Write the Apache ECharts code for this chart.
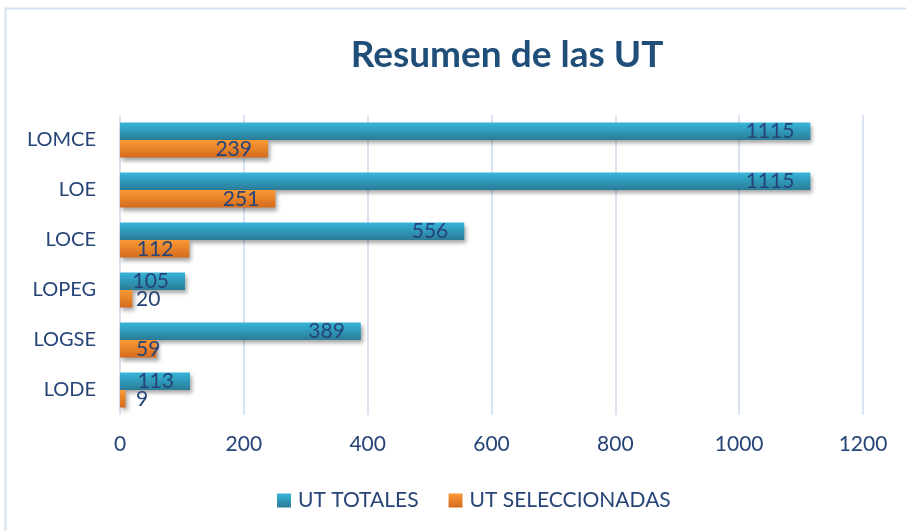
<!DOCTYPE html>
<html>
<head>
<meta charset="UTF-8" />
<title>Resumen de las UT</title>
<script src="https://cdn.jsdelivr.net/npm/echarts@6/dist/echarts.min.js"></script>
<style>
  html, body { margin: 0; padding: 0; background: #fff; }
  #chart { width: 906px; height: 531px; }
</style>
</head>
<body>
<div id="chart"></div>
<script>
// datos (orden de abajo hacia arriba)
var leyes = ['LODE', 'LOGSE', 'LOPEG', 'LOCE', 'LOE', 'LOMCE'];
var utTotales = [113, 389, 105, 556, 1115, 1115];
var utSeleccionadas = [9, 59, 20, 112, 251, 239];
var ticksX = [0, 200, 400, 600, 800, 1000, 1200];

var txtColor = '#264478';

// etiqueta dentro del final, o al inicio si no cabe (como Excel)
function conEtiquetas(valores) {
  return valores.map(function (v) {
    return {
      value: v,
      label: { position: v < 90 ? 'insideLeft' : 'insideRight' }
    };
  });
}

function degradado(c1, c2) {
  return new echarts.graphic.LinearGradient(0, 0, 0, 1, [
    { offset: 0, color: c1 },
    { offset: 1, color: c2 }
  ]);
}

var etiqueta = {
  show: true,
  distance: 16,
  color: txtColor,
  fontFamily: 'Lato',
  fontSize: 21
};

var sombra = {
  shadowBlur: 4,
  shadowOffsetX: 2,
  shadowOffsetY: 3,
  shadowColor: 'rgba(0,0,0,0.35)'
};

var myChart = echarts.init(document.getElementById('chart'));
myChart.setOption({
  animation: false,
  backgroundColor: '#ffffff',
  graphic: [{
    type: 'rect',
    shape: { x: 5.5, y: 8.5, width: 1000, height: 1000 },
    style: { fill: 'none', stroke: '#d6e2f1', lineWidth: 2 },
    silent: true
  }],
  title: {
    text: 'Resumen de las UT',
    left: 502,
    top: 32,
    textAlign: 'center',
    textStyle: {
      color: '#1f4e79',
      fontFamily: 'Lato',
      fontWeight: 'bold',
      fontSize: 37
    }
  },
  legend: {
    left: 272,
    top: 485,
    itemWidth: 14,
    itemHeight: 14,
    itemGap: 30,
    icon: 'rect',
    textStyle: { color: txtColor, fontFamily: 'Lato', fontSize: 21, padding: [0, 0, 0, 2] },
    data: ['UT TOTALES', 'UT SELECCIONADAS']
  },
  grid: { left: 120, right: 43, top: 115, height: 300 },
  xAxis: {
    type: 'value',
    min: ticksX[0],
    max: ticksX[ticksX.length - 1],
    interval: 200,
    axisLine: { show: false },
    axisTick: { show: false },
    axisLabel: {
      color: txtColor, fontFamily: 'Lato', fontSize: 21, margin: 19,
      formatter: function (v) { return String(v); }
    },
    splitLine: { lineStyle: { color: '#dae3f1', width: 2 } }
  },
  yAxis: {
    type: 'category',
    data: leyes,
    axisLine: { show: false },
    axisTick: { show: false },
    axisLabel: { color: txtColor, fontFamily: 'Lato', fontSize: 20, margin: 24 }
  },
  series: [{
    name: 'UT TOTALES',
    type: 'bar',
    data: conEtiquetas(utTotales),
    barGap: '0%',
    barCategoryGap: '30%',
    itemStyle: Object.assign({ color: degradado('#36b5da', '#2a7b97') }, sombra),
    label: etiqueta
  }, {
    name: 'UT SELECCIONADAS',
    type: 'bar',
    data: conEtiquetas(utSeleccionadas),
    barGap: '0%',
    barCategoryGap: '30%',
    itemStyle: Object.assign({ color: degradado('#fa9a36', '#d46a1c') }, sombra),
    label: etiqueta
  }]
});
</script>
</body>
</html>
